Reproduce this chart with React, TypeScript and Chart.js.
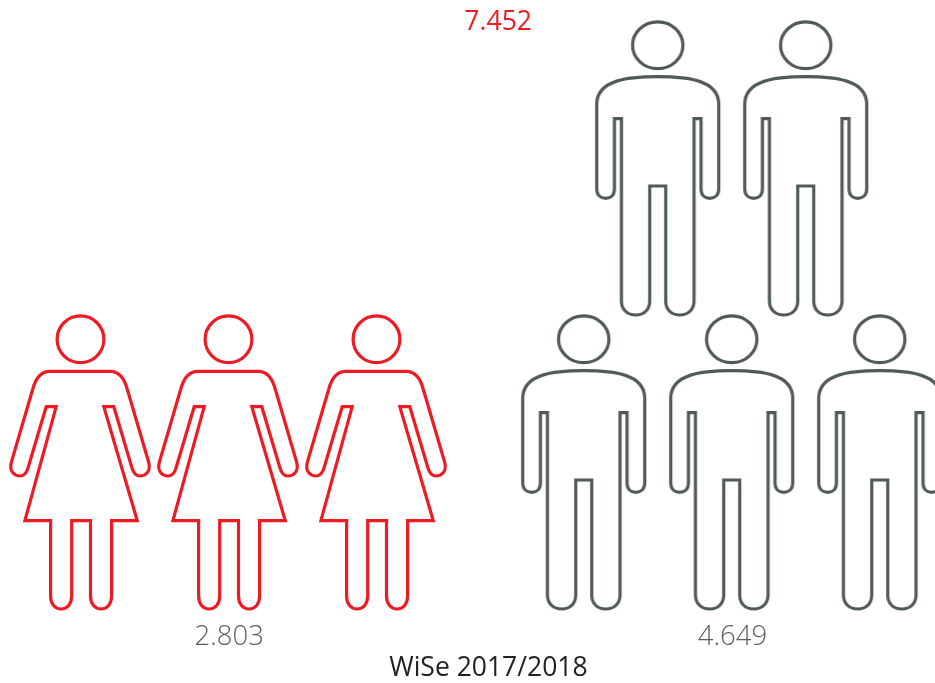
import React, { useEffect, useRef } from "react";
import { Chart, registerables } from "chart.js";

Chart.register(...registerables);

// Data
const period = "WiSe 2017/2018";
const totalStudents = 7452;
const categories = ["Frauen", "Männer"];
const students = [2803, 4649];
const personsPerIcon = 1000;
const iconsInBottomRow = 3;

// Layout in axis units (1 column = one icon pitch, 1 row = one storey of icons)
const groupStartColumn = [0, 3.4];
const RED = "#ed1c24";
const GREY = "#515b56";
const LABEL_GREY = "#596260";
const FONT = '"Open Sans", sans-serif';

const formatDe = (v: number) => {
  const s = String(v);
  return s.slice(0, -3) + "." + s.slice(-3);
};

const ICON_W = 161;
const ICON_H = 340;
const CX = 80.5;
const Y0 = 8;

function makeIcon(color: string, draw: (ctx: CanvasRenderingContext2D) => void) {
  const c = document.createElement("canvas");
  c.width = ICON_W;
  c.height = ICON_H;
  const ctx = c.getContext("2d")!;
  ctx.strokeStyle = color;
  ctx.lineWidth = 3.2;
  ctx.lineJoin = "miter";
  ctx.translate(CX, Y0);
  draw(ctx);
  return c;
}

function drawWoman(ctx: CanvasRenderingContext2D) {
  ctx.beginPath();
  ctx.arc(0, 39.3, 23.4, 0, Math.PI * 2);
  ctx.stroke();
  const half = (s: number) => {
    const a = (v: number) => s * v - 0.5; // arm side sits slightly left of the axis
    const b = (v: number) => s * v + 0.6; // skirt and legs sit slightly right of it
    ctx.moveTo(-0.5, 71.3);
    ctx.lineTo(a(30), 71.3);
    ctx.bezierCurveTo(a(38), 71.3, a(44), 76, a(47.5), 90);
    ctx.lineTo(a(68.6), 162);
    ctx.bezierCurveTo(a(71.4), 172, a(65), 176, a(60), 176);
    ctx.bezierCurveTo(a(56), 176, a(53.5), 173, a(52), 168);
    ctx.lineTo(a(33.8), 106.7);
    ctx.lineTo(a(23.8), 106.7);
    ctx.lineTo(b(56.2), 220.7);
    ctx.lineTo(b(30.5), 220.7);
    ctx.lineTo(b(30.5), 296);
    ctx.bezierCurveTo(b(30.5), 304, b(26), 309, b(20), 309);
    ctx.bezierCurveTo(b(14), 309, b(9.4), 304, b(9.4), 296);
    ctx.lineTo(b(9.4), 220.7);
    ctx.lineTo(0.6, 220.7);
  };
  ctx.beginPath();
  half(1);
  half(-1);
  ctx.stroke();
}

function drawMan(ctx: CanvasRenderingContext2D) {
  ctx.beginPath();
  ctx.ellipse(0, 39.3, 25.2, 23.4, 0, 0, Math.PI * 2);
  ctx.stroke();
  const side = (s: number) => {
    ctx.moveTo(0, 70.7);
    ctx.bezierCurveTo(s * 30, 70.7, s * 61, 74, s * 61, 98.3);
    ctx.lineTo(s * 61, 183);
    ctx.bezierCurveTo(s * 61, 189, s * 57, 192.3, s * 52, 192.3);
    ctx.bezierCurveTo(s * 47, 192.3, s * 43.3, 189, s * 43.3, 183);
    ctx.lineTo(s * 43.3, 112.7);
    ctx.lineTo(s * 36.3, 112.7);
    ctx.lineTo(s * 36.3, 295);
    ctx.bezierCurveTo(s * 36.3, 303, s * 31, 309, s * 22, 309);
    ctx.bezierCurveTo(s * 13, 309, s * 8, 303, s * 8, 295);
    ctx.lineTo(s * 8, 180);
    ctx.lineTo(0, 180);
  };
  ctx.beginPath();
  side(1);
  side(-1);
  ctx.stroke();
}

function iconPoints(value: number, startColumn: number) {
  const count = Math.ceil(value / personsPerIcon);
  const pts: { x: number; y: number }[] = [];
  for (let i = 0; i < count; i++) {
    if (i < iconsInBottomRow) pts.push({ x: startColumn + i, y: 0 });
    else pts.push({ x: startColumn + 0.5 + (i - iconsInBottomRow), y: 1 });
  }
  return pts;
}

const textLabels = [
  { text: formatDe(totalStudents), x: 2.822, y: 1.494, color: RED, size: 26.5, weight: 500 },
  { text: formatDe(students[0]), x: 1.005, y: -0.595, color: LABEL_GREY, size: 27.5, weight: 300 },
  { text: formatDe(students[1]), x: 4.405, y: -0.595, color: LABEL_GREY, size: 27.5, weight: 300 },
  { text: period, x: 2.756, y: -0.703, color: "#222222", size: 26.5, weight: 400 },
];

const labelPlugin = {
  id: "pictogramLabels",
  afterDatasetsDraw(chart: any) {
    const { ctx, scales } = chart;
    ctx.save();
    ctx.textAlign = "center";
    ctx.textBaseline = "middle";
    for (const l of textLabels) {
      ctx.font = `${l.weight} ${l.size}px ${FONT}`;
      ctx.fillStyle = l.color;
      ctx.fillText(l.text, scales.x.getPixelForValue(l.x), scales.y.getPixelForValue(l.y));
    }
    ctx.restore();
  },
};

export default function App() {
  const ref = useRef<HTMLCanvasElement>(null);
  useEffect(() => {
    const chart = new Chart(ref.current!, {
      type: "scatter",
      data: {
        datasets: [
          {
            label: categories[0],
            data: iconPoints(students[0], groupStartColumn[0]),
            pointStyle: makeIcon(RED, drawWoman) as any,
            pointRadius: 10,
            clip: false as any,
          },
          {
            label: categories[1],
            data: iconPoints(students[1], groupStartColumn[1]),
            pointStyle: makeIcon(GREY, drawMan) as any,
            pointRadius: 10,
            clip: false as any,
          },
        ],
      },
      options: {
        animation: false,
        responsive: false,
        layout: { padding: 0, autoPadding: false },
        plugins: { legend: { display: false }, tooltip: { enabled: false } },
        scales: {
          x: { type: "linear", display: false, min: -80.5 / 148, max: (935 - 80.5) / 148 },
          y: { type: "linear", display: false, min: (462 - 683) / 294, max: 462 / 294 },
        },
      },
      plugins: [labelPlugin],
    });
    return () => chart.destroy();
  }, []);
  return (
    <div style={{ position: "absolute", left: 0, top: 0, width: 935, height: 683, background: "#fff" }}>
      <canvas ref={ref} width={935} height={683} style={{ display: "block" }} />
    </div>
  );
}
